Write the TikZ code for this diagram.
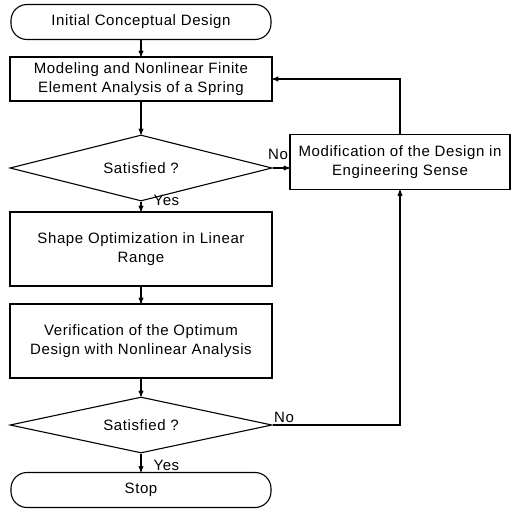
\documentclass[tikz,border=0pt]{standalone}
\usepackage{fontspec}
\setmainfont[LetterSpace=4]{Liberation Sans}
\usetikzlibrary{arrows,shapes.geometric}

\begin{document}
\begin{tikzpicture}[x=1pt,y=-1pt,->,>=stealth',auto,line width=1.1pt,
  font=\fontsize{15}{19}\selectfont,
  term node/.style={rectangle,rounded corners=16pt,draw,minimum width=260pt,minimum height=35pt,inner sep=0pt},
  box node/.style={rectangle,draw,minimum width=262pt,align=center,inner sep=0pt},
  test node/.style={diamond,aspect=4,draw,minimum width=262pt,inner sep=0pt},
  ans/.style={inner sep=1pt}]

  \useasboundingbox (0,0) rectangle (512,509);

  \node[term node] (start) at (141,22) {Initial Conceptual Design};
  \node[box node,minimum height=44pt] (model) at (141,79) {Modeling and Nonlinear Finite\\Element Analysis of a Spring};
  \node[test node,minimum height=66pt] (sat1) at (141,168) {Satisfied ?};
  \node[box node,minimum width=220pt,minimum height=55pt] (modify) at (400,162) {Modification of the Design in\\Engineering Sense};
  \node[box node,minimum height=74pt] (shape) at (141,249) {Shape Optimization in Linear\\Range};
  \node[box node,minimum height=74pt] (verify) at (141,341) {Verification of the Optimum\\Design with Nonlinear Analysis};
  \node[test node,minimum height=56pt] (sat2) at (141,425) {Satisfied ?};
  \node[term node] (stop) at (141,490) {Stop};

  \path
    (start) edge node {} (model)
    (model) edge node {} (sat1)
    (sat1) edge node[ans,pos=0,anchor=west,xshift=11pt,yshift=1pt] {Yes} (shape)
    (shape) edge node {} (verify)
    (verify) edge node {} (sat2)
    (sat2) edge node[ans,pos=0,anchor=west,xshift=11pt,yshift=-12pt] {Yes} (stop)
    (sat1.east) edge node[ans,pos=0,anchor=south west,xshift=-6pt,yshift=7pt] {No} (sat1.east -| modify.west)
    ;

  \draw (modify.north) |- (model.east);
  \draw (sat2.east) -| node[ans,pos=0,anchor=south west,xshift=0pt,yshift=1pt] {No} (modify.south);

\end{tikzpicture}
\end{document}
